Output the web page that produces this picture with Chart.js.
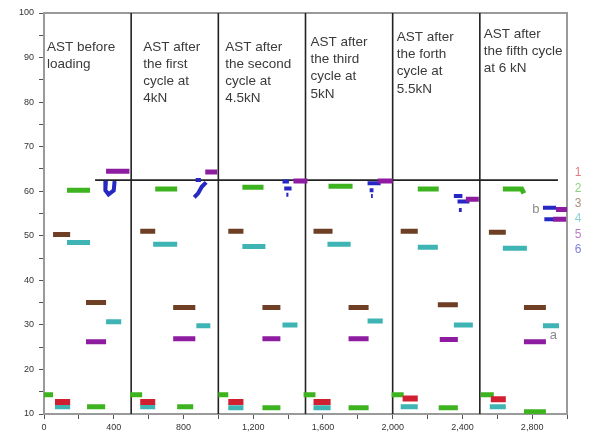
<!DOCTYPE html>
<html>
<head>
<meta charset="utf-8">
<script src="https://cdn.jsdelivr.net/npm/chart.js@4/dist/chart.umd.min.js"></script>
<style>
  html, body { margin: 0; padding: 0; background: #fff; }
  #wrap { width: 589px; height: 439px; }
</style>
</head>
<body>
<div id="wrap"><canvas id="c" width="589" height="439"></canvas></div>
<script>
// Readings along the specimen, one polyline per cluster: [x, value] pairs.
const series1 = [
  [[63, 12.7], [150, 12.7]],
  [[552, 12.7], [638, 12.7]],
  [[1057, 12.7], [1144, 12.7]],
  [[1546, 12.7], [1644, 12.7]],
  [[2057, 13.5], [2144, 13.5]],
  [[2563, 13.3], [2649, 13.3]]
];
const series2 = [
  [[0, 14.3], [52, 14.3]],
  [[132, 60.2], [264, 60.2]],
  [[247, 11.6], [351, 11.6]],
  [[494, 14.3], [563, 14.3]],
  [[638, 60.5], [764, 60.5]],
  [[764, 11.6], [856, 11.6]],
  [[1000, 14.3], [1057, 14.3]],
  [[1138, 60.9], [1259, 60.9]],
  [[1253, 11.4], [1356, 11.4]],
  [[1489, 14.3], [1557, 14.3]],
  [[1632, 61.1], [1770, 61.1]],
  [[1747, 11.4], [1862, 11.4]],
  [[1994, 14.3], [2063, 14.3]],
  [[2144, 60.5], [2264, 60.5]],
  [[2264, 11.4], [2374, 11.4]],
  [[2506, 14.3], [2580, 14.3]],
  [[2632, 60.5], [2740, 60.5], [2753, 59.5]],
  [[2753, 10.5], [2879, 10.5]]
];
const series3 = [
  [[52, 50.3], [150, 50.3]],
  [[241, 35.0], [356, 35.0]],
  [[552, 51.0], [638, 51.0]],
  [[741, 33.9], [868, 33.9]],
  [[1057, 51.0], [1144, 51.0]],
  [[1253, 33.9], [1356, 33.9]],
  [[1546, 51.0], [1655, 51.0]],
  [[1747, 33.9], [1862, 33.9]],
  [[2046, 51.0], [2144, 51.0]],
  [[2259, 34.5], [2374, 34.5]],
  [[2552, 50.8], [2649, 50.8]],
  [[2753, 33.9], [2879, 33.9]]
];
const series4 = [
  [[63, 11.6], [150, 11.6]],
  [[132, 48.5], [264, 48.5]],
  [[356, 30.7], [443, 30.7]],
  [[552, 11.6], [638, 11.6]],
  [[626, 48.1], [764, 48.1]],
  [[874, 29.8], [954, 29.8]],
  [[1057, 11.4], [1144, 11.4]],
  [[1138, 47.6], [1270, 47.6]],
  [[1368, 30.0], [1454, 30.0]],
  [[1546, 11.4], [1644, 11.4]],
  [[1626, 48.1], [1759, 48.1]],
  [[1856, 30.9], [1943, 30.9]],
  [[2046, 11.6], [2144, 11.6]],
  [[2144, 47.4], [2259, 47.4]],
  [[2351, 30.0], [2460, 30.0]],
  [[2557, 11.6], [2649, 11.6]],
  [[2632, 47.2], [2770, 47.2]],
  [[2862, 29.8], [2954, 29.8]]
];
const series5 = [
  [[241, 26.2], [356, 26.2]],
  [[356, 64.5], [490, 64.5]],
  [[741, 26.9], [868, 26.9]],
  [[925, 64.3], [994, 64.3]],
  [[1253, 26.9], [1356, 26.9]],
  [[1431, 62.3], [1511, 62.3]],
  [[1747, 26.9], [1862, 26.9]],
  [[1914, 62.3], [2000, 62.3]],
  [[2270, 26.7], [2374, 26.7]],
  [[2420, 58.2], [2494, 58.2]],
  [[2753, 26.2], [2879, 26.2]],
  [[2937, 55.9], [3000, 55.9]],
  [[2920, 53.7], [2995, 53.7]]
];
const series6 = [
  [[355, 62.3], [352, 60.2], [370, 59.3], [400, 60.2], [405, 62.3]],
  [[862, 58.6], [885, 59.6], [905, 61.0], [930, 62.0]],
  [[870, 62.5], [900, 62.5]],
  [[1368, 62.2], [1405, 62.2]],
  [[1378, 60.6], [1420, 60.6]],
  [[1390, 59.2], [1402, 59.2]],
  [[1856, 61.8], [1931, 61.8]],
  [[1868, 60.2], [1890, 60.2]],
  [[1876, 58.9], [1886, 58.9]],
  [[2351, 58.9], [2400, 58.9]],
  [[2372, 57.7], [2440, 57.7]],
  [[2380, 55.8], [2396, 55.8]],
  [[2862, 56.3], [2937, 56.3]],
  [[2870, 53.7], [2925, 53.7]]
];

const seriesNames = ['1', '2', '3', '4', '5', '6'];
const xTickValues = [0, 400, 800, 1200, 1600, 2000, 2400, 2800];
const yTickValues = [10, 20, 30, 40, 50, 60, 70, 80, 90, 100];
const sectionBounds = [500, 1000, 1500, 2000, 2500];
const referenceLevel = 62.5;
const referenceSpan = [293, 2948];

const sectionNotes = [
  { x: 17,   y: 92.4, lines: ['AST before', 'loading'] },
  { x: 569,  y: 92.4, lines: ['AST after', 'the first', 'cycle at', '4kN'] },
  { x: 1040, y: 92.4, lines: ['AST after', 'the second', 'cycle at', '4.5kN'] },
  { x: 1529, y: 93.5, lines: ['AST after', 'the third', 'cycle at', '5kN'] },
  { x: 2023, y: 94.6, lines: ['AST after', 'the forth', 'cycle at', '5.5kN'] },
  { x: 2523, y: 95.3, lines: ['AST after', 'the fifth cycle', 'at 6 kN'] }
];
const markerNotes = [
  { x: 2822, y: 55.9, text: 'b' },
  { x: 2922, y: 27.6, text: 'a' }
];

// Turn clusters into one line dataset with gaps between clusters.
function toPoints(clusters) {
  const pts = [];
  clusters.forEach(c => {
    c.forEach(p => pts.push({ x: p[0], y: p[1] }));
    const last = c[c.length - 1];
    pts.push({ x: last[0], y: null });
  });
  return pts;
}

const colors = ['#d01f30', '#3db31f', '#6e3f24', '#3fb4b4', '#8e1ca0', '#2727c4'];
const widths = [6, 5, 5, 5, 5, 4];
const allSeries = [series1, series2, series3, series4, series5, series6];

const datasets = allSeries.map((s, i) => ({
  label: seriesNames[i],
  data: toPoints(s),
  showLine: true,
  spanGaps: false,
  borderColor: colors[i],
  backgroundColor: colors[i],
  borderWidth: widths[i],
  borderCapStyle: 'butt',
  pointRadius: 0,
  tension: 0
}));

const FONT = '"Liberation Sans", Arial, sans-serif';

const overlay = {
  id: 'overlay',
  beforeDatasetsDraw(chart) {
    const { ctx, chartArea: a, scales: { x, y } } = chart;
    ctx.save();
    // frame on top and right
    ctx.strokeStyle = '#9a9a9a';
    ctx.lineWidth = 2;
    ctx.beginPath();
    ctx.moveTo(a.left, a.top);
    ctx.lineTo(a.right, a.top);
    ctx.lineTo(a.right, a.bottom);
    ctx.stroke();
    // section separators
    ctx.strokeStyle = '#222';
    ctx.lineWidth = 1.6;
    sectionBounds.forEach(v => {
      const px = x.getPixelForValue(v);
      ctx.beginPath();
      ctx.moveTo(px, a.top);
      ctx.lineTo(px, a.bottom);
      ctx.stroke();
    });
    // reference level
    const py = y.getPixelForValue(referenceLevel);
    ctx.beginPath();
    ctx.moveTo(x.getPixelForValue(referenceSpan[0]), py);
    ctx.lineTo(x.getPixelForValue(referenceSpan[1]), py);
    ctx.stroke();
    // section captions
    ctx.fillStyle = '#3a3a3a';
    ctx.font = '13.5px ' + FONT;
    ctx.textAlign = 'left';
    ctx.textBaseline = 'middle';
    sectionNotes.forEach(n => {
      const px0 = x.getPixelForValue(n.x);
      const py0 = y.getPixelForValue(n.y);
      n.lines.forEach((t, k) => ctx.fillText(t, px0, py0 + k * 17.3));
    });
    ctx.restore();
  },
  afterDatasetsDraw(chart) {
    const { ctx, chartArea: a, scales: { x, y } } = chart;
    ctx.save();
    ctx.fillStyle = '#8a8a8a';
    ctx.font = '13px ' + FONT;
    ctx.textAlign = 'center';
    ctx.textBaseline = 'middle';
    markerNotes.forEach(n => ctx.fillText(n.text, x.getPixelForValue(n.x), y.getPixelForValue(n.y)));
    // series key to the right of the frame
    ctx.font = '12px ' + FONT;
    ctx.globalAlpha = 0.6;
    chart.data.datasets.forEach((d, i) => {
      ctx.fillStyle = d.borderColor;
      ctx.fillText(d.label, a.right + 11, 173 + i * 15.3);
    });
    ctx.restore();
  }
};

new Chart(document.getElementById('c'), {
  type: 'scatter',
  data: { datasets },
  options: {
    responsive: false,
    animation: false,
    layout: { padding: { top: 13, right: 22, left: 0, bottom: 0 } },
    plugins: { legend: { display: false }, tooltip: { enabled: false } },
    scales: {
      x: {
        type: 'linear',
        min: 0,
        max: 3000,
        afterFit(s) { s.height = 25; },
        border: { display: true, color: '#9a9a9a', width: 2 },
        grid: { drawOnChartArea: false, drawTicks: true, tickLength: 5, color: '#555' },
        ticks: {
          stepSize: 200,
          autoSkip: false,
          maxRotation: 0,
          padding: 3,
          color: '#333',
          font: { family: FONT, size: 9 },
          callback: v => xTickValues.includes(v) ? v.toLocaleString('en-US') : ''
        }
      },
      y: {
        type: 'linear',
        min: 10,
        max: 100,
        afterFit(s) { s.width = 44; },
        border: { display: true, color: '#9a9a9a', width: 2 },
        grid: { drawOnChartArea: false, drawTicks: true, tickLength: 5, color: '#555' },
        ticks: {
          stepSize: 5,
          autoSkip: false,
          padding: 5,
          color: '#333',
          font: { family: FONT, size: 9 },
          callback: v => yTickValues.includes(v) ? String(v) : ''
        }
      }
    }
  },
  plugins: [overlay]
});
</script>
</body>
</html>
